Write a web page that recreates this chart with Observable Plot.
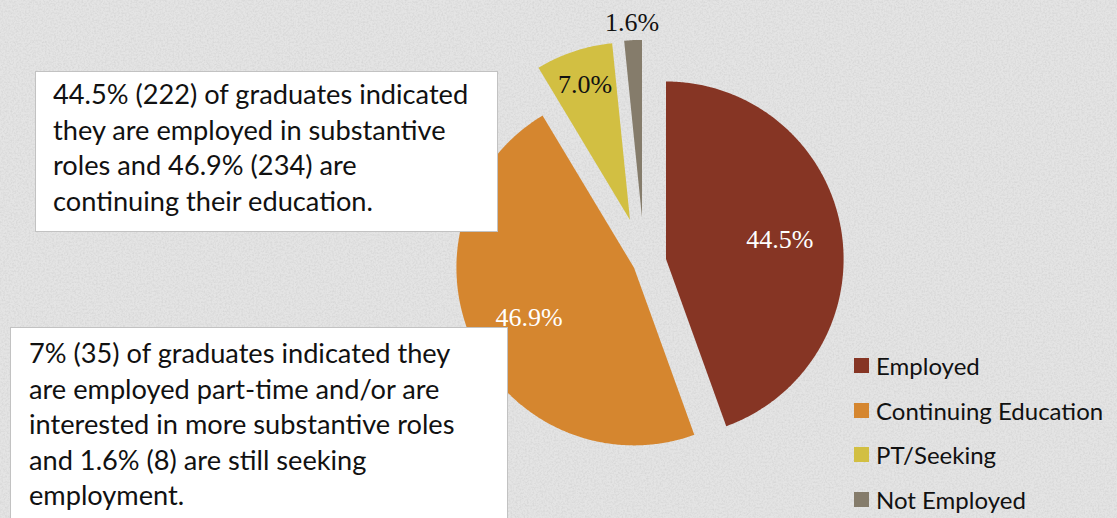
<!DOCTYPE html>
<html>
<head>
<meta charset="utf-8">
<script src="https://cdn.jsdelivr.net/npm/d3@7"></script>
<script src="https://cdn.jsdelivr.net/npm/@observablehq/plot@0.6"></script>
<style>
  html, body { margin: 0; padding: 0; }
  #wrap { position: relative; width: 1117px; height: 518px; overflow: hidden; background: #e3e3e3; }
  #bg { position: absolute; left: 0; top: 0; }
  #chart { position: absolute; left: 0; top: 0; }
  .box { position: absolute; background: #fff; border: 1.5px solid #c2c2c2; box-sizing: border-box;
         font-family: Lato, sans-serif; color: #111; font-size: 27.2px; line-height: 35.5px; white-space: nowrap; }
  #legend { position: absolute; left: 854px; top: 343px; font-family: Lato, sans-serif; font-size: 24px; color: #111; }
  .item { display: flex; align-items: center; height: 44.7px; }
  .sw { width: 15px; height: 15px; margin-right: 7px; }
</style>
</head>
<body>
<div id="wrap">
  <svg id="bg" width="1117" height="518">
    <filter id="noise"><feTurbulence type="fractalNoise" baseFrequency="0.55" numOctaves="3" seed="7"/>
      <feColorMatrix type="matrix" values="0 0 0 0 0.45  0 0 0 0 0.45  0 0 0 0 0.45  0 0 0 1.2 -0.45"/></filter>
    <rect width="1117" height="518" fill="#e4e4e4"/>
    <rect width="1117" height="518" filter="url(#noise)" opacity="0.45"/>
  </svg>
  <div id="chart"></div>
  <div class="box" id="box1" style="left:35px;top:71px;width:463px;height:161px;padding:4px 0 0 17px;"></div>
  <div class="box" id="box2" style="left:10px;top:327px;width:498px;height:210px;padding:7px 0 0 18px;"></div>
  <div id="legend"></div>
</div>
<script>
// ---- data ----
const categories = ["Employed", "Continuing Education", "PT/Seeking", "Not Employed"];
const counts = [222, 234, 35, 8];
const colors = ["#863524", "#D5862F", "#D2BF42", "#857C6B"];
const labelColors = ["#ffffff", "#ffffff", "#111111", "#111111"];
const note1 = ["44.5% (222) of graduates indicated", "they are employed in substantive", "roles and 46.9% (234) are", "continuing their education."];
const note2 = ["7% (35) of graduates indicated they", "are employed part-time and/or are", "interested in more substantive roles", "and 1.6% (8) are still seeking", "employment."];

// ---- layout / style (not data) ----
const W = 1117, H = 518;
const R = 177.6;                       // pixels per pie radius
const C = {x: 643.8, y: 262.4};        // pie centre in pixels
const explode = [0.124, 0.064, 0.255, 0.256];
const labelR = [0.65, 0.655, 0.8, 1.1];

const total = d3.sum(counts);
const arcs = d3.pie().sort(null).value(d => d)(counts);
const slices = [];
const labels = [];
arcs.forEach((a, i) => {
  const mid = (a.startAngle + a.endAngle) / 2;
  const ox = explode[i] * Math.sin(mid), oy = explode[i] * Math.cos(mid);
  const name = categories[i];
  slices.push({name, x: ox, y: oy});
  const n = Math.max(2, Math.ceil((a.endAngle - a.startAngle) / (Math.PI / 360)));
  for (let k = 0; k <= n; k++) {
    const t = a.startAngle + (a.endAngle - a.startAngle) * k / n;
    slices.push({name, x: ox + Math.sin(t), y: oy + Math.cos(t)});
  }
  labels.push({name, i, x: ox + labelR[i] * Math.sin(mid), y: oy + labelR[i] * Math.cos(mid),
               text: d3.format(".1%")(counts[i] / total)});
});

const chart = Plot.plot({
  width: W, height: H, margin: 0,
  style: {background: "transparent", overflow: "visible"},
  x: {domain: [-C.x / R, (W - C.x) / R], axis: null},
  y: {domain: [-(H - C.y) / R, C.y / R], axis: null},
  marks: [
    ...categories.map((c, i) => Plot.line(slices.filter(d => d.name === c),
      {x: "x", y: "y", fill: colors[i], stroke: "none", curve: "linear"})),
    ...labelColors.map((col, i) => Plot.text(labels.filter(d => d.i === i),
      {x: "x", y: "y", text: "text", fill: col, fontFamily: "Liberation Serif", fontSize: 26, textAnchor: "middle"}))
  ]
});
document.getElementById("chart").appendChild(chart);

document.getElementById("box1").innerHTML = note1.map(s => `<div>${s}</div>`).join("");
document.getElementById("box2").innerHTML = note2.map(s => `<div>${s}</div>`).join("");
document.getElementById("legend").innerHTML = categories.map((c, i) =>
  `<div class="item"><div class="sw" style="background:${colors[i]}"></div><span>${c}</span></div>`).join("");
</script>
</body>
</html>
